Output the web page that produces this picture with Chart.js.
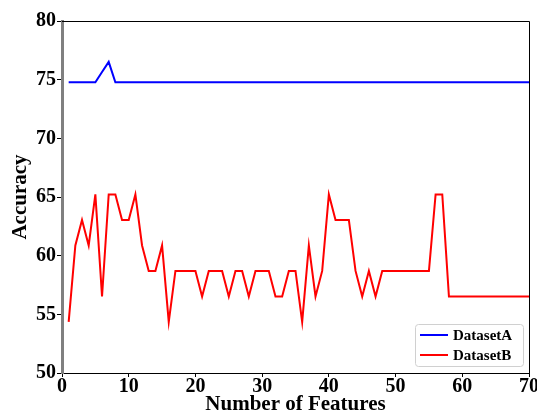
<!DOCTYPE html>
<html>
<head>
<meta charset="utf-8">
<script src="https://cdn.jsdelivr.net/npm/chart.js@4.4.0/dist/chart.umd.min.js"></script>
<style>
  body { margin: 0; background: #fff; }
  #wrap { width: 537px; height: 412px; }
</style>
</head>
<body>
<div id="wrap"><canvas id="accChart" width="537" height="412"></canvas></div>
<script>
const features = [1, 2, 3, 4, 5, 6, 7, 8, 9, 10, 11, 12, 13, 14, 15, 16, 17, 18, 19, 20,
    21, 22, 23, 24, 25, 26, 27, 28, 29, 30, 31, 32, 33, 34, 35, 36, 37, 38, 39, 40,
    41, 42, 43, 44, 45, 46, 47, 48, 49, 50, 51, 52, 53, 54, 55, 56, 57, 58, 59, 60,
    61, 62, 63, 64, 65, 66, 67, 68, 69, 70];

const datasetA = [74.78, 74.78, 74.78, 74.78, 74.78, 75.65, 76.52, 74.78, 74.78, 74.78,
    74.78, 74.78, 74.78, 74.78, 74.78, 74.78, 74.78, 74.78, 74.78, 74.78,
    74.78, 74.78, 74.78, 74.78, 74.78, 74.78, 74.78, 74.78, 74.78, 74.78,
    74.78, 74.78, 74.78, 74.78, 74.78, 74.78, 74.78, 74.78, 74.78, 74.78,
    74.78, 74.78, 74.78, 74.78, 74.78, 74.78, 74.78, 74.78, 74.78, 74.78,
    74.78, 74.78, 74.78, 74.78, 74.78, 74.78, 74.78, 74.78, 74.78, 74.78,
    74.78, 74.78, 74.78, 74.78, 74.78, 74.78, 74.78, 74.78, 74.78, 74.78];

const datasetB = [54.35, 60.87, 63.04, 60.87, 65.22, 56.52, 65.22, 65.22, 63.04, 63.04,
    65.22, 60.87, 58.70, 58.70, 60.87, 54.35, 58.70, 58.70, 58.70, 58.70,
    56.52, 58.70, 58.70, 58.70, 56.52, 58.70, 58.70, 56.52, 58.70, 58.70,
    58.70, 56.52, 56.52, 58.70, 58.70, 54.35, 60.87, 56.52, 58.70, 65.22,
    63.04, 63.04, 63.04, 58.70, 56.52, 58.70, 56.52, 58.70, 58.70, 58.70,
    58.70, 58.70, 58.70, 58.70, 58.70, 65.22, 65.22, 56.52, 56.52, 56.52,
    56.52, 56.52, 56.52, 56.52, 56.52, 56.52, 56.52, 56.52, 56.52, 56.52];

const seriesNames = ['DatasetA', 'DatasetB'];
const seriesColors = ['#0000ff', '#ff0000'];

const serif = "'Liberation Serif', 'Times New Roman', serif";

const toPoints = vals => features.map((f, i) => ({ x: f, y: vals[i] }));

// frame on top/right + legend box in the lower right corner
const framePlugin = {
    id: 'frameAndLegend',
    afterDraw(chart) {
        const { ctx, chartArea: a } = chart;
        ctx.save();
        ctx.strokeStyle = '#000';
        ctx.lineWidth = 1;
        ctx.beginPath();
        ctx.moveTo(a.left, a.top + 0.5);
        ctx.lineTo(a.right + 0.5, a.top + 0.5);
        ctx.lineTo(a.right + 0.5, a.bottom);
        ctx.stroke();

        const w = 108, h = 42;
        const bx = a.right - w - 6, by = a.bottom - h - 7;
        ctx.fillStyle = 'rgba(255,255,255,0.9)';
        ctx.strokeStyle = '#d0d0d0';
        ctx.beginPath();
        ctx.roundRect(bx + 0.5, by + 0.5, w, h, 3);
        ctx.fill();
        ctx.stroke();

        ctx.font = 'bold 15px ' + serif;
        ctx.textBaseline = 'middle';
        chart.data.datasets.forEach((ds, i) => {
            const y = by + 11 + i * 20;
            ctx.strokeStyle = ds.borderColor;
            ctx.lineWidth = 2;
            ctx.beginPath();
            ctx.moveTo(bx + 5, y);
            ctx.lineTo(bx + 33, y);
            ctx.stroke();
            ctx.fillStyle = '#000';
            ctx.fillText(ds.label, bx + 38, y + 1);
        });
        ctx.restore();
    }
};

new Chart(document.getElementById('accChart'), {
    type: 'line',
    data: {
        datasets: [{
            label: seriesNames[0],
            data: toPoints(datasetA),
            borderColor: seriesColors[0],
            borderWidth: 2,
            pointRadius: 0,
            tension: 0
        }, {
            label: seriesNames[1],
            data: toPoints(datasetB),
            borderColor: seriesColors[1],
            borderWidth: 2,
            pointRadius: 0,
            tension: 0
        }]
    },
    options: {
        responsive: false,
        animation: false,
        layout: { padding: { left: 10, right: 8, top: 21, bottom: 0 } },
        plugins: {
            legend: { display: false },
            tooltip: { enabled: false }
        },
        scales: {
            x: {
                type: 'linear',
                min: 0,
                max: 70,
                afterFit: s => { s.paddingRight = 0; },
                ticks: {
                    stepSize: 10,
                    color: '#000',
                    padding: 0,
                    maxRotation: 0,
                    font: { family: serif, size: 20, weight: 'bold', lineHeight: 1 }
                },
                grid: { drawOnChartArea: false, color: '#000', tickLength: 4 },
                border: { color: '#000', width: 1 },
                title: {
                    display: true,
                    text: 'Number of Features',
                    color: '#000',
                    padding: { top: -3, bottom: -3 },
                    font: { family: serif, size: 21, weight: 'bold', lineHeight: 1 }
                }
            },
            y: {
                min: 50,
                max: 80,
                ticks: {
                    stepSize: 5,
                    color: '#000',
                    padding: 1,
                    font: { family: serif, size: 20, weight: 'bold', lineHeight: 1 }
                },
                grid: { drawOnChartArea: false, color: '#000', tickLength: 5 },
                border: { color: '#808080', width: 3 },
                title: {
                    display: true,
                    text: 'Accuracy',
                    color: '#000',
                    padding: { top: 0, bottom: 4 },
                    font: { family: serif, size: 21, weight: 'bold', lineHeight: 1 }
                }
            }
        }
    },
    plugins: [framePlugin]
});
</script>
</body>
</html>
